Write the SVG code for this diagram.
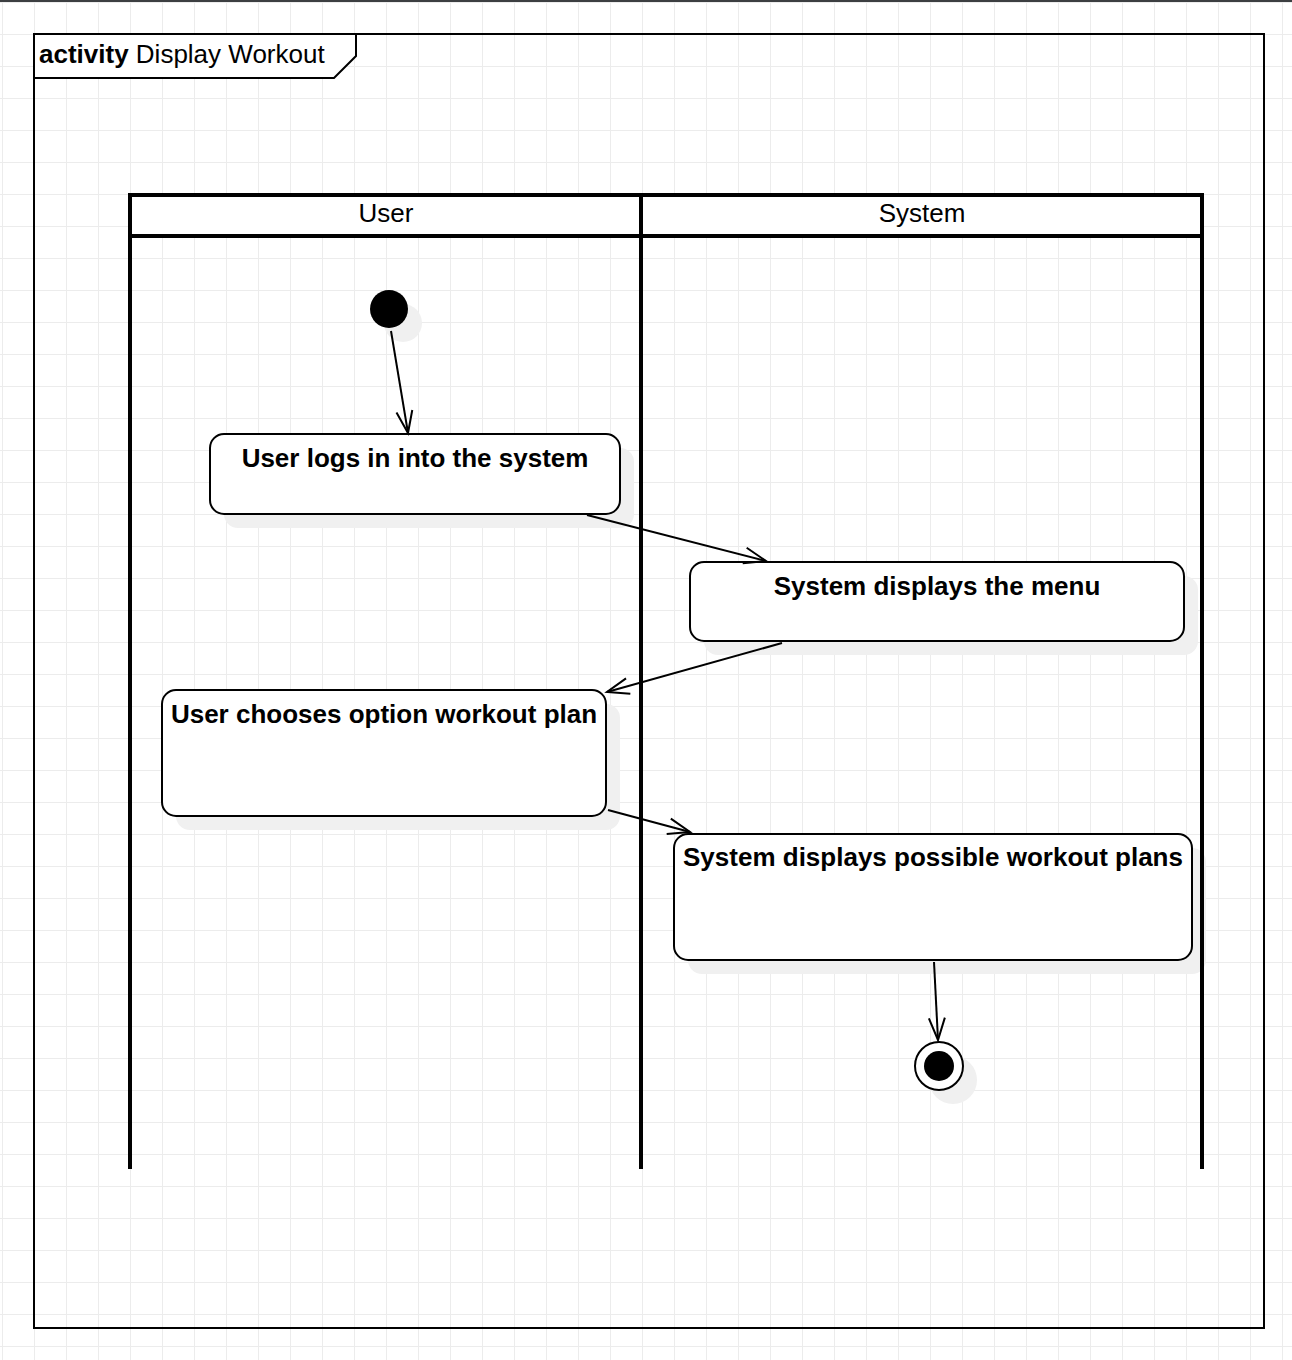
<svg xmlns="http://www.w3.org/2000/svg" width="1292" height="1360" viewBox="0 0 1292 1360">
<style>
.frame{fill:none;stroke:#000;stroke-width:2}
.lane{fill:none;stroke:#000;stroke-width:4}
.act{fill:#fff;stroke:#000;stroke-width:2}
.shadow{fill:#f0f0f0;stroke:none}
.lbl{font-family:"Liberation Sans",Arial,sans-serif;font-size:26px;font-weight:bold;fill:#000;text-anchor:middle}
.hdr{font-family:"Liberation Sans",Arial,sans-serif;font-size:26px;fill:#000;text-anchor:middle}
.conn{fill:none;stroke:#000;stroke-width:2}
</style>
<defs>
<pattern id="grid" x="2" y="2" width="32" height="32" patternUnits="userSpaceOnUse">
<path d="M0.5 0V32M0 0.5H32" fill="none" stroke="#ececec" stroke-width="1"/>
</pattern>
<marker id="arr" markerUnits="userSpaceOnUse" markerWidth="30" markerHeight="24" refX="0" refY="0" viewBox="-24 -12 30 24" orient="auto" overflow="visible">
<path d="M-22 -8L0 0L-22 8" fill="none" stroke="#000" stroke-width="2"/>
</marker>
</defs>
<rect width="1292" height="1360" fill="#fff"/>
<rect width="1292" height="1360" fill="url(#grid)"/>
<rect x="0" y="0" width="1292" height="2" fill="#3c3f41"/>
<g id="frame">
<rect class="frame" x="34" y="34" width="1230" height="1294"/>
<path d="M34 34H356V56L334 78H34Z" fill="#fff" stroke="#000" stroke-width="2"/>
<text x="39" y="63" font-family="'Liberation Sans',Arial,sans-serif" font-size="26" fill="#000"><tspan font-weight="bold">activity</tspan> Display Workout</text>
</g>
<g id="shadows">
<circle class="shadow" cx="403" cy="323" r="19"/>
<rect class="shadow" x="224" y="448" width="410" height="80" rx="14"/>
<rect class="shadow" x="704" y="576" width="494" height="79" rx="14"/>
<rect class="shadow" x="176" y="704" width="444" height="126" rx="14"/>
<rect class="shadow" x="688" y="848" width="518" height="126" rx="14"/>
<circle class="shadow" cx="953" cy="1080" r="24"/>
</g>
<g id="swimlanes">
<rect x="130" y="195" width="1072" height="41" fill="#fff"/>
<path class="lane" d="M130 1169V195H1202V1169M130 236H1202M641 195V1169"/>
<text class="hdr" x="386" y="222">User</text>
<text class="hdr" x="922" y="222">System</text>
</g>
<g id="start">
<circle cx="389" cy="309" r="19" fill="#000"/>
</g>
<g id="a1">
<rect class="act" x="210" y="434" width="410" height="80" rx="14"/>
<text class="lbl" x="415" y="467">User logs in into the system</text>
</g>
<g id="a2">
<rect class="act" x="690" y="562" width="494" height="79" rx="14"/>
<text class="lbl" x="937" y="595">System displays the menu</text>
</g>
<g id="a3">
<rect class="act" x="162" y="690" width="444" height="126" rx="14"/>
<text class="lbl" x="384" y="723">User chooses option workout plan</text>
</g>
<g id="a4">
<rect class="act" x="674" y="834" width="518" height="126" rx="14"/>
<text class="lbl" x="933" y="866">System displays possible workout plans</text>
</g>
<g id="end">
<circle cx="939" cy="1066" r="24" fill="#fff" stroke="#000" stroke-width="2"/>
<circle cx="939" cy="1066" r="15" fill="#000"/>
</g>
<g id="connectors">
<path class="conn" d="M391 331L408 433" marker-end="url(#arr)"/>
<path class="conn" d="M587 515L766 561" marker-end="url(#arr)"/>
<path class="conn" d="M782 643L607 692" marker-end="url(#arr)"/>
<path class="conn" d="M608 810L690 832" marker-end="url(#arr)"/>
<path class="conn" d="M934 962L938 1040" marker-end="url(#arr)"/>
</g>
</svg>
